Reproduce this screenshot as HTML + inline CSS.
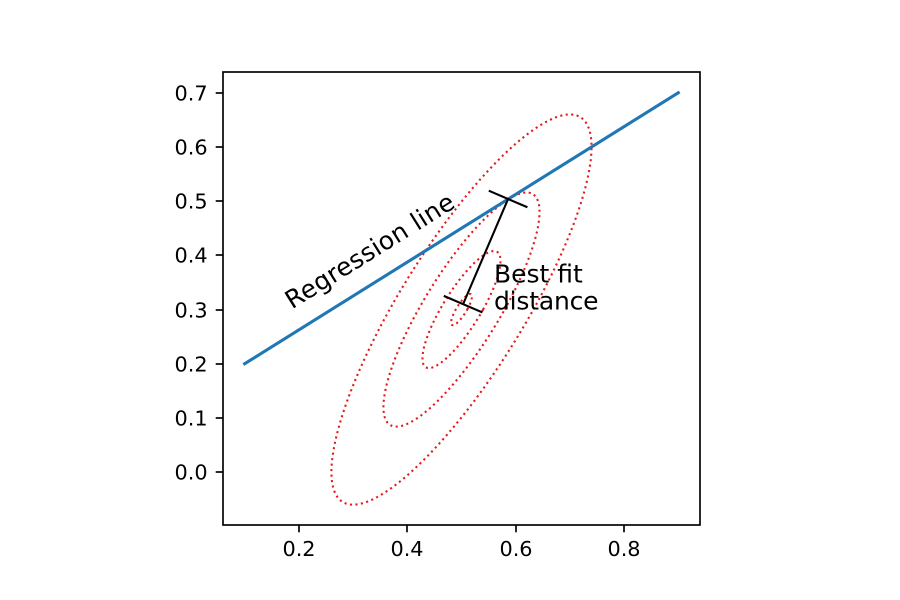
<!DOCTYPE html>
<html lang="en">
<head>
<meta charset="utf-8">
<title>Regression line chart</title>
<style>
html,body{margin:0;padding:0;background:#fff;width:900px;height:600px;overflow:hidden}
svg{display:block}
text{font-family:"DejaVu Sans","Liberation Sans",sans-serif;fill:#000}
</style>
</head>
<body>
<svg id="chart" xmlns="http://www.w3.org/2000/svg" width="900" height="600" viewBox="0 0 900 600"></svg>
<script>
const xTicks = [0.2, 0.4, 0.6, 0.8];
const yTicks = [0.0, 0.1, 0.2, 0.3, 0.4, 0.5, 0.6, 0.7];
const regressionX = [0.1, 0.9];
const regressionY = [0.2, 0.7];
const contourScales = [1, 0.6, 0.3, 0.08];
const contourCenter = [0.5, 0.3];
const contourHalfWidth = [0.24];
const contourHalfHeight = [0.36];
const contourTopOffsetX = [0.2];
const distanceX = [0.503, 0.586];
const distanceY = [0.31, 0.504];

const svg = document.getElementById('chart');
const NS = 'http://www.w3.org/2000/svg';
const plot = {left: 223, right: 700, top: 72, bottom: 525};
const pxPerUnit = 542;
const xMin = 0.06, yMin = -0.0975;
const sx = v => plot.left + (v - xMin) * pxPerUnit;
const sy = v => plot.bottom - (v - yMin) * pxPerUnit;

function make(tag, attrs, parent) {
  const el = document.createElementNS(NS, tag);
  for (const k in attrs) el.setAttribute(k, attrs[k]);
  (parent || svg).appendChild(el);
  return el;
}

// contour ellipses
contourScales.forEach((s, i) => {
  const sinPhi = -contourTopOffsetX[0] / contourHalfWidth[0];
  const phi = Math.asin(Math.max(-1, Math.min(1, sinPhi)));
  let d = '';
  for (let a = 0; a <= 360; a += 2) {
    const t = a * Math.PI / 180;
    const x = contourCenter[0] + s * contourHalfWidth[0] * Math.cos(t + phi);
    const y = contourCenter[1] + s * contourHalfHeight[0] * Math.sin(t);
    d += (a === 0 ? 'M' : 'L') + sx(x).toFixed(2) + ' ' + sy(y).toFixed(2);
  }
  const el = make('path', {d: d + 'Z', fill: 'none', stroke: '#e41a1c', 'stroke-width': 2.08, 'stroke-dasharray': '2.08 3.43'});
  
  
});

// regression line
const reg = make('line', {x1: sx(regressionX[0]), y1: sy(regressionY[0]), x2: sx(regressionX[1]), y2: sy(regressionY[1]), stroke: '#1f77b4', 'stroke-width': 3.125, 'stroke-linecap': 'square'});



// best-fit distance marker
const ax = sx(distanceX[0]), ay = sy(distanceY[0]);
const bx = sx(distanceX[1]), by = sy(distanceY[1]);
const len = Math.hypot(bx - ax, by - ay);
const px = -(by - ay) / len * 21, py = (bx - ax) / len * 21;
const distLine = make('line', {x1: ax, y1: ay, x2: bx, y2: by, stroke: '#000', 'stroke-width': 2.08});


const capLow = make('line', {x1: ax - px, y1: ay - py, x2: ax + px, y2: ay + py, stroke: '#000', 'stroke-width': 2.08});


const capHigh = make('line', {x1: bx - px, y1: by - py, x2: bx + px, y2: by + py, stroke: '#000', 'stroke-width': 2.08});



// axes frame
const frame = make('rect', {x: plot.left, y: plot.top, width: plot.right - plot.left, height: plot.bottom - plot.top, fill: 'none', stroke: '#000', 'stroke-width': 1.67});



// x axis
xTicks.forEach(v => {
  const x = Math.round(sx(v));
  const tick = make('line', {x1: x, y1: plot.bottom, x2: x, y2: plot.bottom + 7.3, stroke: '#000', 'stroke-width': 1.67});
  
  
  const label = make('text', {x: x, y: 556, 'text-anchor': 'middle', 'font-size': 20.83});
  label.textContent = v.toFixed(1);
  
  
});

// y axis
yTicks.forEach(v => {
  const y = Math.round(sy(v));
  const tick = make('line', {x1: plot.left, y1: y, x2: plot.left - 7.3, y2: y, stroke: '#000', 'stroke-width': 1.67});
  
  
  const label = make('text', {x: 207.6, y: y + 7.6, 'text-anchor': 'end', 'font-size': 20.83});
  label.textContent = v.toFixed(1);
  
  
});
</script>
<script>
(function () {
  const svgEl = document.getElementById('chart');
  const ns = 'http://www.w3.org/2000/svg';
  const regLabel = document.createElementNS(ns, 'text');
  regLabel.setAttribute('transform', 'translate(292 309.5) rotate(-32)');
  regLabel.setAttribute('font-size', '25');
  regLabel.setAttribute('letter-spacing', '0.3');
  regLabel.textContent = 'Regression line';
  
  
  svgEl.appendChild(regLabel);
  const fit1 = document.createElementNS(ns, 'text');
  fit1.setAttribute('x', '494');
  fit1.setAttribute('y', '282.5');
  fit1.setAttribute('font-size', '25');
  fit1.textContent = 'Best fit';
  
  
  svgEl.appendChild(fit1);
  const fit2 = document.createElementNS(ns, 'text');
  fit2.setAttribute('x', '494');
  fit2.setAttribute('y', '309.5');
  fit2.setAttribute('font-size', '25');
  fit2.setAttribute('letter-spacing', '-0.2');
  fit2.textContent = 'distance';
  
  
  svgEl.appendChild(fit2);
})();
</script>
</body>
</html>
